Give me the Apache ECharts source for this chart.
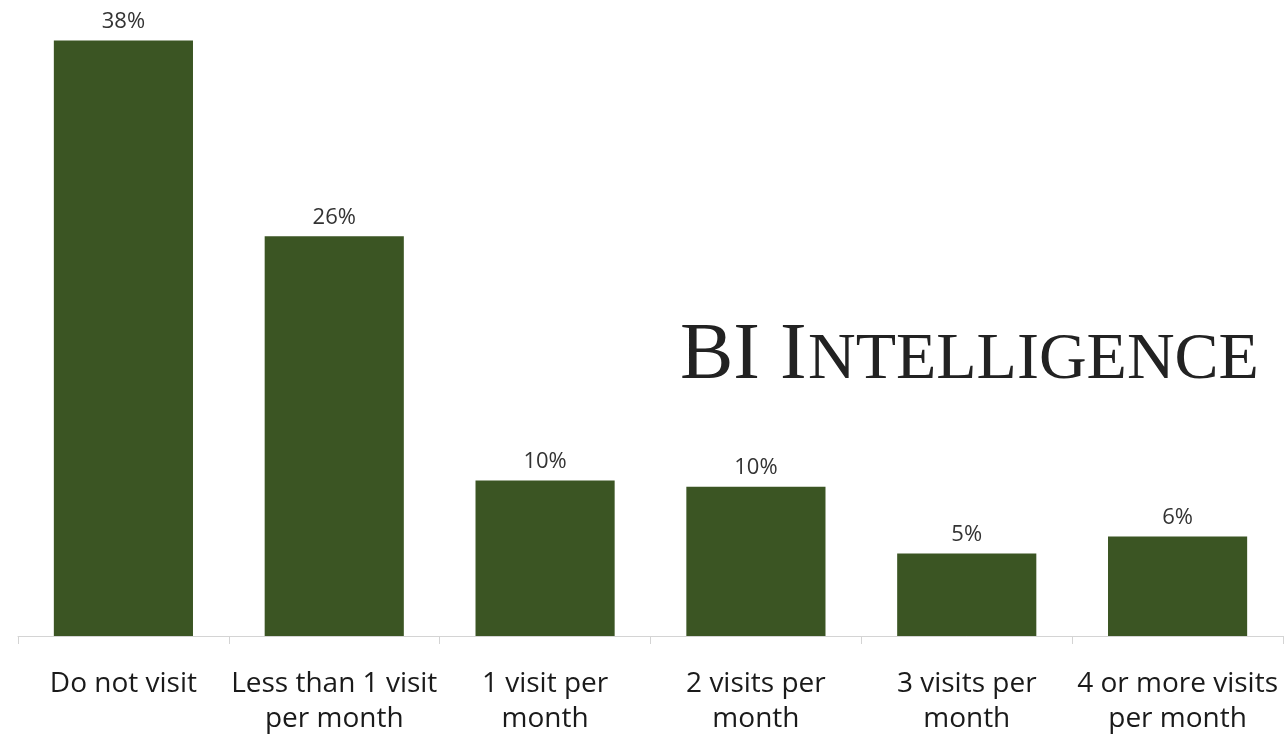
<!DOCTYPE html>
<html>
<head>
<meta charset="utf-8">
<script src="https://cdn.jsdelivr.net/npm/echarts@6/dist/echarts.min.js"></script>
<style>
html,body{margin:0;padding:0;background:#fff;}
#chart{width:1286px;height:735px;}
</style>
</head>
<body>
<div id="chart"></div>
<script>
var categories = ["Do not visit", "Less than 1 visit\nper month", "1 visit per\nmonth", "2 visits per\nmonth", "3 visits per\nmonth", "4 or more visits\nper month"];
var shares = [38.3, 25.7, 10.0, 9.6, 5.3, 6.4];

var chart = echarts.init(document.getElementById('chart'));
chart.setOption({
  backgroundColor: '#ffffff',
  animation: false,
  grid: {left: 18, right: 3, top: 14, bottom: 99, containLabel: false, outerBoundsMode: 'none'},
  xAxis: {
    type: 'category',
    data: categories,
    axisLine: {show: true, lineStyle: {color: '#d4d4d4', width: 1}},
    axisTick: {show: true, alignWithLabel: false, length: 8, lineStyle: {color: '#d4d4d4'}},
    axisLabel: {
      interval: 0,
      color: '#1a1a1a',
      fontFamily: 'Open Sans',
      fontSize: 28,
      lineHeight: 35,
      margin: 31
    }
  },
  yAxis: {
    type: 'value',
    min: 0,
    max: 40,
    show: false,
    splitLine: {show: false}
  },
  series: [{
    type: 'bar',
    data: shares,
    barCategoryGap: '34%',
    itemStyle: {color: '#3b5523'},
    label: {
      show: true,
      position: 'top',
      distance: 8,
      color: '#333333',
      fontFamily: 'Open Sans',
      fontSize: 22,
      formatter: function (p) { return Math.round(p.value) + '%'; }
    }
  }],
  graphic: [
    {
      type: 'text',
      left: 680,
      top: 317,
      style: {
        text: 'BI I',
        font: '80px "Liberation Serif"',
        fill: '#222222'
      }
    },
    {
      type: 'text',
      left: 808,
      top: 328,
      style: {
        text: 'NTELLIGENCE',
        font: '66px "Liberation Serif"',
        fill: '#222222'
      }
    }
  ]
});
</script>
</body>
</html>
